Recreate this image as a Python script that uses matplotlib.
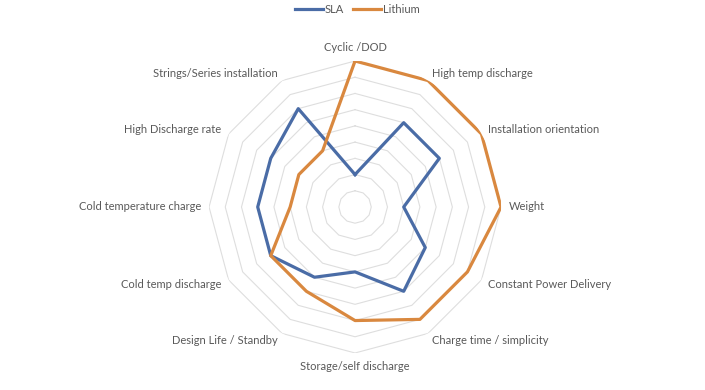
import numpy as np
import matplotlib
matplotlib.use("Agg")
import matplotlib.pyplot as plt

categories = ["Cyclic /DOD", "High temp discharge", "Installation orientation", "Weight",
              "Constant Power Delivery", "Charge time / simplicity", "Storage/self discharge",
              "Design Life / Standby", "Cold temp discharge", "Cold temperature charge",
              "High Discharge rate", "Strings/Series installation"]
sla = [2, 6, 6, 3, 5, 6, 4, 5, 6, 6, 6, 7]
lithium = [9, 9, 9, 9, 8, 8, 7, 6, 6, 4, 4, 4]

RMAX = 9
BLUE = "#4A6CA6"
ORANGE = "#D9883F"
GRID = "#dedede"
TEXT = "#595959"

plt.rcParams["font.family"] = ["Lato", "DejaVu Sans"]

fig = plt.figure(figsize=(7.05, 3.9), dpi=100)
ax = fig.add_axes([0.2965, 0.0949, 0.4142, 0.7487], projection="polar")
ax.set_theta_zero_location("N")
ax.set_theta_direction(-1)

n = len(categories)
angles = np.linspace(0, 2 * np.pi, n, endpoint=False)
closed = np.append(angles, angles[0])

# dodecagon gridlines, Excel style
for r in range(1, RMAX + 1):
    ax.plot(closed, [r] * (n + 1), color=GRID, lw=0.8, zorder=1)

ax.plot(closed, sla + sla[:1], color=BLUE, lw=2.3, label="SLA", zorder=3)
ax.plot(closed, lithium + lithium[:1], color=ORANGE, lw=2.3, label="Lithium", zorder=3)

ax.set_ylim(0, RMAX)
ax.grid(False)
ax.set_xticks([])
ax.set_yticks([])
ax.spines["polar"].set_visible(False)
ax.patch.set_alpha(0)

for a, name in zip(angles, categories):
    s = np.sin(a)
    if abs(s) < 1e-6:
        ha = "center"
        va = "bottom" if np.cos(a) > 0 else "top"
    else:
        ha = "left" if s > 0 else "right"
        va = "center"
    ax.text(a, 9.5, name, ha=ha, va=va, fontsize=8, color=TEXT)

fig.legend(loc="upper center", bbox_to_anchor=(0.507, 1.015), ncol=2, frameon=False,
           fontsize=8, handlelength=2.5, handletextpad=0.2, columnspacing=0.8, labelcolor=TEXT)

fig.savefig("out.png", dpi=100)
